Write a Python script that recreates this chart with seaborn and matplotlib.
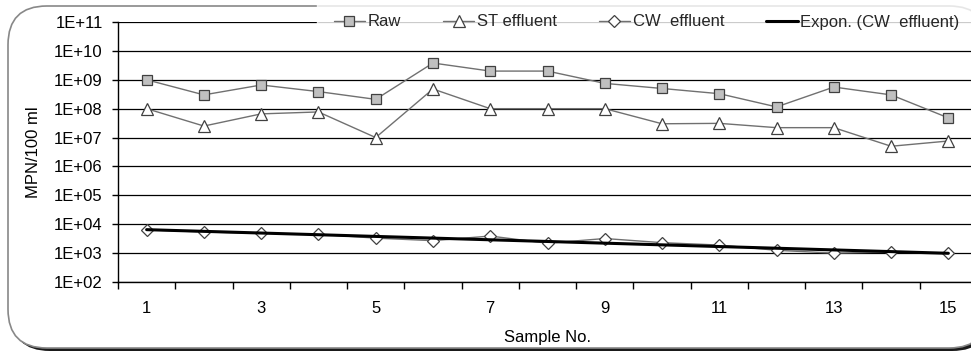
import numpy as np
import pandas as pd
import seaborn as sns
import matplotlib.pyplot as plt
from matplotlib.patches import FancyBboxPatch
from matplotlib.ticker import FixedLocator, NullLocator

samples = list(range(1, 16))
raw = [1.0e9, 3.0e8, 6.6e8, 3.9e8, 2.1e8, 3.8e9, 2.0e9, 2.0e9, 7.5e8, 5.0e8,
       3.3e8, 1.15e8, 5.6e8, 3.0e8, 4.8e7]
st_effluent = [1.0e8, 2.5e7, 6.6e7, 7.7e7, 1.0e7, 4.8e8, 1.0e8, 1.0e8, 1.0e8, 3.0e7,
               3.1e7, 2.2e7, 2.2e7, 5.0e6, 7.6e6]
cw_effluent = [6400, 5400, 4800, 4500, 3300, 2700, 3900, 2200, 3200, 2300,
               1900, 1250, 1000, 1100, 1000]
y_ticks = [1e2, 1e3, 1e4, 1e5, 1e6, 1e7, 1e8, 1e9, 1e10, 1e11]
y_labels = ["1E+02", "1E+03", "1E+04", "1E+05", "1E+06", "1E+07", "1E+08",
            "1E+09", "1E+10", "1E+11"]
x_labels = [1, 3, 5, 7, 9, 11, 13, 15]

sns.set_theme(style="white")
plt.rcParams['font.family'] = ['Liberation Sans', 'DejaVu Sans']
FS = 12

df = pd.DataFrame({"Sample": samples, "Raw": raw, "ST": st_effluent, "CW": cw_effluent})
# Excel-style exponential trend on CW effluent
b, a = np.polyfit(df["Sample"], np.log(df["CW"]), 1)
df["Trend"] = np.exp(a + b * df["Sample"])

fig = plt.figure(figsize=(9.71, 3.53), dpi=100)

# rounded chart-area frame with shadow
shadow = FancyBboxPatch((11 / 971, 2 / 353), 980 / 971, 344 / 353,
                        boxstyle="round,pad=0,rounding_size=0.04",
                        transform=fig.transFigure, facecolor="#1a1a1a",
                        edgecolor="none", zorder=-2, mutation_aspect=971 / 353)
frame = FancyBboxPatch((8 / 971, 5 / 353), 980 / 971, 342 / 353,
                       boxstyle="round,pad=0,rounding_size=0.04",
                       transform=fig.transFigure, facecolor="white",
                       edgecolor="#888888", lw=1.2, zorder=-1, mutation_aspect=971 / 353)
fig.patches.extend([shadow, frame])

ax = fig.add_axes([118 / 971, 71 / 353, 859 / 971, 260 / 353])
ax.set_zorder(2)
ax.patch.set_alpha(0)

line_kw = dict(color="#707070", lw=1.0, markeredgecolor="#404040", markeredgewidth=0.9)
sns.lineplot(data=df, x="Sample", y="Raw", ax=ax, marker="s", markersize=7.5,
             markerfacecolor="#c0c0c0", label="Raw", zorder=4, **line_kw)
sns.lineplot(data=df, x="Sample", y="ST", ax=ax, marker="^", markersize=8.5,
             markerfacecolor="white", label="ST effluent", zorder=4, **line_kw)
sns.lineplot(data=df, x="Sample", y="CW", ax=ax, marker="D", markersize=6.5,
             markerfacecolor="white", label="CW  effluent", zorder=4, **line_kw)
sns.lineplot(data=df, x="Sample", y="Trend", ax=ax, color="black", lw=2.2,
             label="Expon. (CW  effluent)", zorder=5)

ax.set_yscale("log")
ax.set_ylim(1e2, 1e11)
ax.set_xlim(0.5, 15.5)
ax.yaxis.set_major_locator(FixedLocator(y_ticks))
ax.yaxis.set_minor_locator(NullLocator())
ax.set_yticks(y_ticks)
ax.set_yticklabels(y_labels)
ax.set_xticks(x_labels)
ax.set_xticklabels([str(v) for v in x_labels])
ax.xaxis.set_minor_locator(FixedLocator(np.arange(0.5, 16, 1)))
ax.tick_params(axis="x", which="major", length=0, pad=14, labelsize=FS, colors="black")
ax.tick_params(axis="x", which="minor", length=5, width=1, direction="out", color="black", bottom=True)
ax.tick_params(axis="y", which="major", length=4, width=1, direction="out", left=True,
               labelsize=FS, colors="black", pad=7)
ax.grid(axis="y", color="black", lw=0.9, zorder=1)
ax.set_axisbelow(True)
for side in ["top", "right"]:
    ax.spines[side].set_visible(False)
for side in ["left", "bottom"]:
    ax.spines[side].set_color("black")
    ax.spines[side].set_linewidth(1.0)

ax.set_xlabel("Sample No.", fontsize=FS, color="black", labelpad=10)
ax.set_ylabel("MPN/100 ml", fontsize=FS, color="black", labelpad=9)

handles, labels = ax.get_legend_handles_labels()
ax.legend_.remove()
leg = fig.legend(handles, labels, ncol=4, loc="center right",
                 bbox_to_anchor=(976 / 971, 1 - 22 / 353), frameon=True,
                 fontsize=FS, handlelength=1.9, handletextpad=0.15,
                 columnspacing=2.5, borderpad=1.0, borderaxespad=0, fancybox=False)
leg.get_frame().set_facecolor("white")
leg.get_frame().set_edgecolor("white")
leg.set_zorder(10)

fig.savefig("out.png", dpi=100)
